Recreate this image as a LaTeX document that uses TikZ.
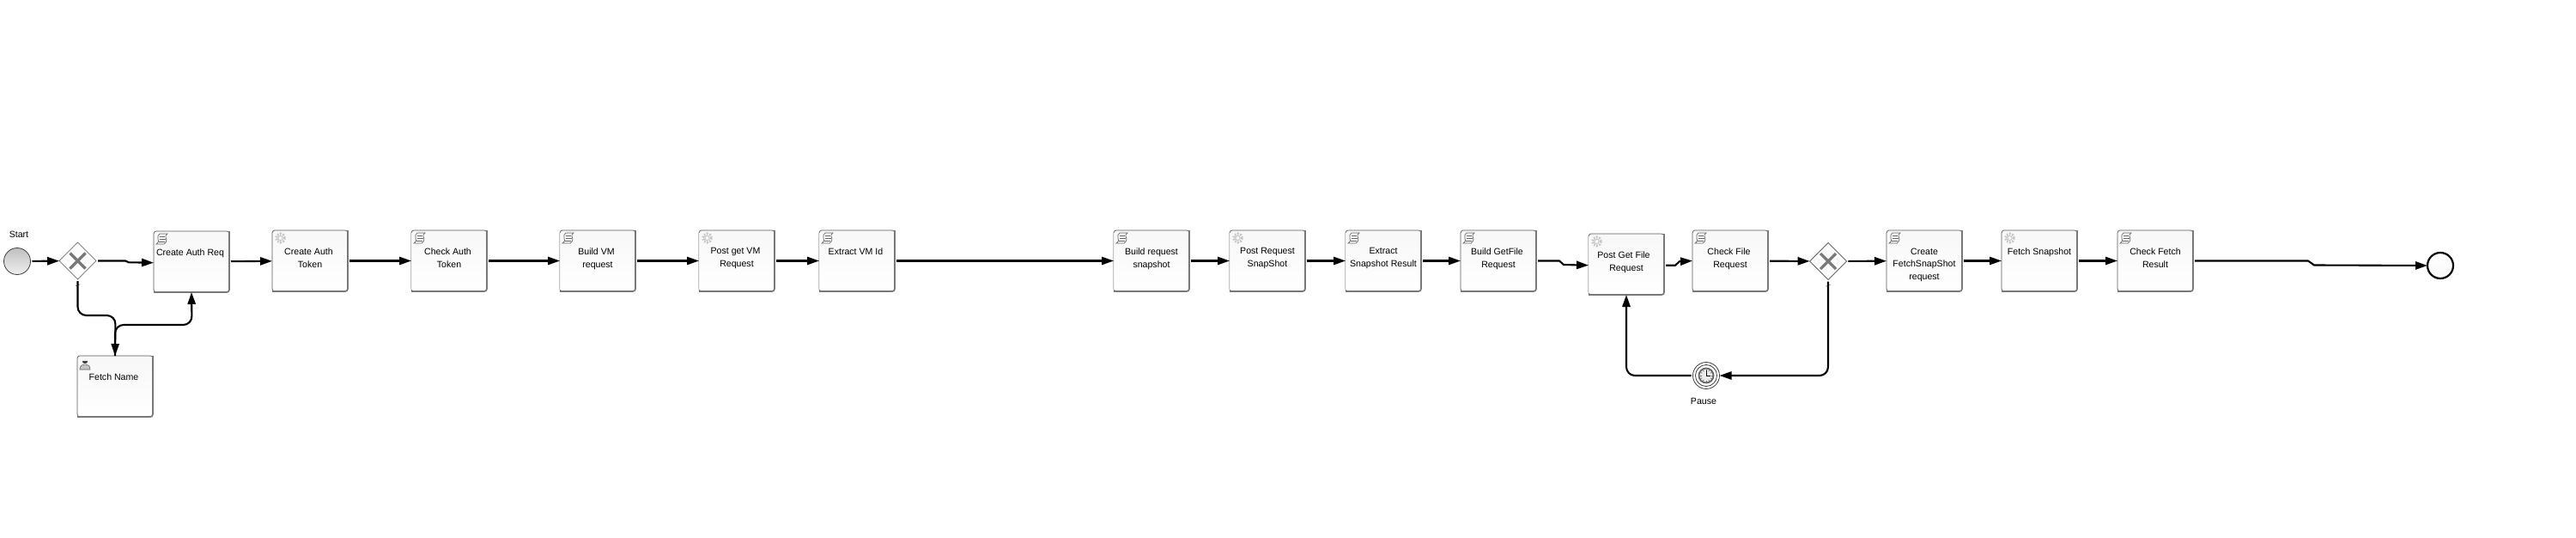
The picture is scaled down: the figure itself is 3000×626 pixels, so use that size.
\documentclass[tikz,border=0pt]{standalone}
\usepackage{fontspec}
\usepackage{xcolor}
\setmainfont{Liberation Sans}
\usetikzlibrary{arrows.meta,shapes.geometric}
\definecolor{edgegray}{HTML}{787878}
\definecolor{iconinkgray}{HTML}{666666}
\definecolor{gearcolor}{HTML}{C4C4C4}
\definecolor{palegray}{HTML}{EFEFEF}
\newcommand{\gap}{\kern1.5pt}
% task box with its text
\newcommand{\bpmtask}[4]{
	\node[taskbox] (#1) at (#2,#3) {};
	\node[tasktext] (#1t) at ([yshift=-10.1pt]#1.north) {#4};
	\draw[taskshade] (#1.north east) -- (#1.south east) -- (#1.south west);
}
\newcommand{\scripticon}[1]{
	\begin{scope}[shift={(#1.north west)},iconline]
		\draw (7,3) -- (16,3) .. controls (12,6) and (15,8) .. (15,10) .. controls (15,12) and (14,14) .. (12,15) -- (3,15) .. controls (6,13) and (6,11) .. (5,9) .. controls (4,7) and (5,4) .. (7,3);
		\draw (7,6.5) -- (13,6.5) (7,9.5) -- (14,9.5) (6,12.5) -- (13,12.5);
	\end{scope}
}
\newcommand{\gearicon}[1]{
	\begin{scope}[shift={(#1.north west)}]
		\draw[gearcolor,line width=1.5pt,dash pattern=on .8pt off .8pt] (9.5,9) circle (5);
		\draw[gearcolor,line width=.4pt] (9.5,9) circle (2.6);
	\end{scope}
}
\newcommand{\usericon}[1]{
	\begin{scope}[shift={(#1.north west)}]
		\fill[gearcolor] (3,16) .. controls (3,11) and (6,10) .. (9,10) .. controls (12,10) and (15,11) .. (15,16) -- cycle;
		\draw[iconinkgray,line width=.3pt] (3,16) .. controls (3,11) and (6,10) .. (9,10) .. controls (12,10) and (15,11) .. (15,16) -- cycle;
		\fill[palegray] (9,7) circle (3.3);
		\fill[black!75] (5.8,6) arc (180:0:3.2) -- cycle;
	\end{scope}
}
\newcommand{\gatecross}[1]{
	\draw[crossline] ([shift={(-4.5pt,-4.5pt)}]#1.center) -- ([shift={(4.5pt,4.5pt)}]#1.center);
	\draw[crossline] ([shift={(-4.5pt,4.5pt)}]#1.center) -- ([shift={(4.5pt,-4.5pt)}]#1.center);
	\draw[iconinkgray,line width=.3pt] ([shift={(-1.3pt,-3.9pt)}]#1.south) -- ([shift={(1.3pt,-2.9pt)}]#1.south);
}
\tikzset{
	taskbox/.style={anchor=north west,minimum width=44pt,minimum height=35.5pt,inner sep=0,outer sep=0,
		draw=black!65,line width=.35pt,rounded corners=1.5pt,top color=black!3,bottom color=white},
	taskshade/.style={edgegray,line width=.85pt,rounded corners=1.5pt},
	tasktext/.style={anchor=north,inner sep=0,align=center,font=\fontsize{5.3pt}{7.45pt}\selectfont},
	iconline/.style={iconinkgray,line width=.35pt},
	gatebox/.style={diamond,aspect=1,inner sep=0,outer sep=0,minimum width=21.5pt,minimum height=21.5pt,
		draw=black!70,line width=.35pt,top color=black!2,bottom color=white},
	crossline/.style={edgegray,line width=1.6pt},
	startevent/.style={circle,inner sep=0,outer sep=0,minimum size=15.5pt,draw=black!75,line width=.4pt,
		top color=black!25,bottom color=black!6},
	endevent/.style={circle,inner sep=0,outer sep=0,minimum size=15pt,draw=black,line width=1.1pt,
		top color=white,bottom color=black!3},
	timerevent/.style={circle,inner sep=0,outer sep=0,minimum size=15.5pt,draw=black!75,line width=.4pt,fill=white},
	caption/.style={inner sep=0,font=\fontsize{5.3pt}{7.45pt}\selectfont},
	flow/.style={line width=1.05pt,shorten <=1pt,-{Triangle[length=7pt,width=4.6pt]}},
	bentflow/.style={flow,rounded corners=5pt}
}
\begin{document}
\begin{tikzpicture}[x=.5pt,y=-.5pt]
	\useasboundingbox (0,0) rectangle (3000,626);
	% events and gateways
	\node[startevent] (start) at (20,304) {};
	\node[caption] (startlabel) at (22,273) {Start};
	\node[gatebox] (gwauth) at (90.5,303.5) {};
	\node[gatebox] (gwfile) at (2129,304) {};
	\node[timerevent] (pause) at (1987,437) {};
	\node[caption] (pauselabel) at (1984,467) {Pause};
	\node[endevent] (finish) at (2842,309) {};
	\gatecross{gwauth}
	\gatecross{gwfile}
	% tasks
	\bpmtask{authreq}{179}{269}{Create Auth Req\gap}
	\bpmtask{authtoken}{317}{268}{Create Auth\gap\\Token}
	\bpmtask{checkauth}{479}{268}{Check Auth\gap\\Token}
	\bpmtask{buildvm}{652}{268}{Build VM\gap\\request}
	\bpmtask{postvm}{814}{268}{Post get VM\gap\\Request}
	\bpmtask{extractvm}{954}{268}{Extract VM Id\gap}
	\bpmtask{buildsnap}{1297}{268}{Build request\\snapshot}
	\bpmtask{postsnap}{1432}{268}{Post Request\\SnapShot}
	\bpmtask{extractsnap}{1567}{268}{Extract\\Snapshot Result}
	\bpmtask{buildget}{1701}{268}{Build GetFile\gap\\Request}
	\bpmtask{postget}{1850}{272}{Post Get File\gap\gap\\Request}
	\bpmtask{checkfile}{1971}{268}{Check File\gap\\Request}
	\bpmtask{createfetch}{2197}{268}{Create\\FetchSnapShot\\request}
	\bpmtask{fetchsnap}{2331}{268}{Fetch Snapshot}
	\bpmtask{checkfetch}{2466}{268}{Check Fetch\\Result}
	\bpmtask{fetchname}{90}{414}{Fetch Name\gap}
	% left edges that come out pale
	\foreach \t in {checkauth,buildvm,postvm,extractvm,buildsnap,postsnap,extractsnap,postget}
		\draw[palegray,line width=.5pt] ([yshift=-1.5pt]\t.north west) -- ([yshift=1pt]\t.south west);
	% icons
	\foreach \t in {authreq,checkauth,buildvm,extractvm,buildsnap,extractsnap,buildget,checkfile,createfetch,checkfetch}
		\scripticon{\t};
	\foreach \t in {authtoken,postvm,postsnap,postget,fetchsnap}
		\gearicon{\t};
	\usericon{fetchname}
	% clock
	\draw[black!75,line width=.4pt] (pause.center) circle (12.5);
	\draw[iconinkgray,line width=.9pt,fill=black!8] (pause.center) circle (8.5);
	\foreach \a in {0,30,...,330}
		\draw[iconinkgray,line width=.35pt] (pause.center) ++(\a:5.5) -- ++(\a:2);
	\draw[black,line width=.4pt] (1987,431) -- (pause.center) -- (1992,437);
	% connectors
	\draw[flow] (start) -- (gwauth);
	\draw[flow] (gwauth.east) -- ++(34,0) -- ++(4,1.8) -- ([yshift=-.6pt]authreq.west);
	\foreach \a/\b in {authreq/authtoken,authtoken/checkauth,checkauth/buildvm,buildvm/postvm,postvm/extractvm,
		extractvm/buildsnap,buildsnap/postsnap,postsnap/extractsnap,extractsnap/buildget,checkfile/gwfile,
		gwfile/createfetch,createfetch/fetchsnap,fetchsnap/checkfetch}
		\draw[flow] (\a) -- (\b);
	\draw[flow] (buildget.east) -- ++(27,0) -- ++(5,4.5) -- ([yshift=-.6pt]postget.west);
	\draw[flow] ([yshift=-.6pt]postget.east) -- ++(13,0) -- ++(5,-4.5) -- (checkfile.west);
	\draw[flow] (checkfetch.east) -- ++(134,0) -- ++(7,5) -- (finish.west);
	\coordinate (bendname) at (134.5,367);
	\coordinate (bendreq) at (223.5,378);
	\draw[bentflow] (gwauth.south) |- (bendname) -- (fetchname.north);
	\draw[bentflow,shorten <=0pt] (fetchname.north) |- (bendreq) -- (authreq.south);
	\draw[bentflow] (gwfile.south) |- (pause.east);
	\draw[bentflow] (pause.west) -| (postget.south);
\end{tikzpicture}
\end{document}
